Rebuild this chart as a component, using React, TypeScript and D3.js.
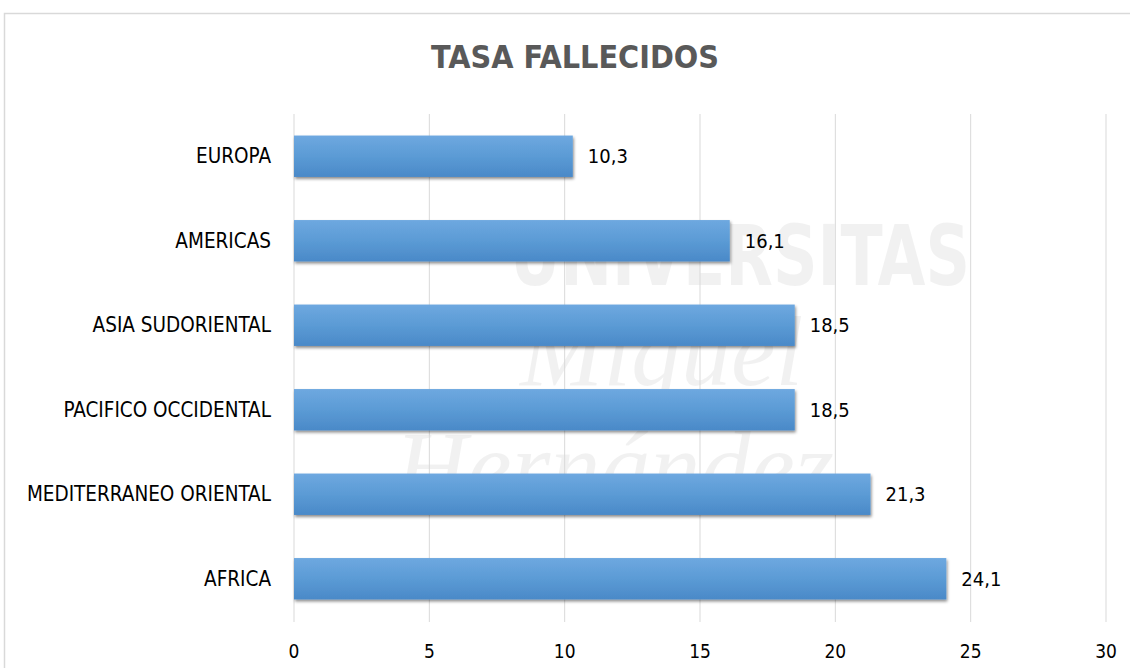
import React from "react";
import * as d3 from "d3";

const categories = ["EUROPA", "AMERICAS", "ASIA SUDORIENTAL", "PACIFICO OCCIDENTAL", "MEDITERRANEO ORIENTAL", "AFRICA"];
const values = [10.3, 16.1, 18.5, 18.5, 21.3, 24.1];
const xTicks = [0, 5, 10, 15, 20, 25, 30];
const title = "TASA FALLECIDOS";

const W = 1130;
const H = 668;
const FONT = "'DejaVu Sans Condensed', 'Liberation Sans Narrow', 'Open Sans', sans-serif";

export default function App() {
  const x = d3.scaleLinear().domain([0, 30]).range([294, 1106]);
  const y = d3.scaleBand().domain(categories).range([114, 621]).paddingInner(0.51).paddingOuter(0.255);
  const fmt = (v: number) => v.toFixed(1).replace(".", ",");
  return (
    <svg width={W} height={H} style={{ position: "absolute", left: 0, top: 0, background: "#fff" }}>
      <defs>
        <linearGradient id="barGrad" x1="0" y1="0" x2="0" y2="1">
          <stop offset="0" stopColor="#6EA8E0" />
          <stop offset="0.5" stopColor="#5B9BD5" />
          <stop offset="1" stopColor="#4A89C8" />
        </linearGradient>
        <filter id="shadow" x="-5%" y="-30%" width="110%" height="170%">
          <feDropShadow dx="1" dy="2" stdDeviation="1.5" floodColor="#000" floodOpacity="0.45" />
        </filter>
      </defs>
      <rect x={4.5} y={13.5} width={1140} height={700} fill="#fff" stroke="#d9d9d9" strokeWidth={1.5} />
      <g opacity={0.05} pointerEvents="none">
        <text x={510} y={285} fontFamily={FONT} fontWeight="bold" fontSize={84} fill="#000" textLength={460} lengthAdjust="spacingAndGlyphs">
          UNIVERSITAS
        </text>
        <text x={520} y={385} fontFamily="'Liberation Serif', serif" fontStyle="italic" fontSize={100} fill="#000">
          Miguel
        </text>
        <text x={395} y={500} fontFamily="'Liberation Serif', serif" fontStyle="italic" fontSize={100} fill="#000">
          Hernández
        </text>
      </g>
      <text x={575} y={68} textAnchor="middle" fontFamily={FONT} fontWeight="bold" fontSize={32} fill="#595959">
        {title}
      </text>
      {xTicks.map((t) => (
        <g key={t}>
          <line x1={x(t)} x2={x(t)} y1={114} y2={622} stroke="#d9d9d9" strokeWidth={1} />
          <text x={x(t)} y={658} textAnchor="middle" fontFamily={FONT} fontSize={19} fill="#000">
            {t}
          </text>
        </g>
      ))}
      {categories.map((c, i) => (
        <g key={c}>
          <rect
            x={x(0)}
            y={y(c)!}
            width={x(values[i]) - x(0)}
            height={y.bandwidth()}
            fill="url(#barGrad)"
            filter="url(#shadow)"
          />
          <text x={271} y={y(c)! + y.bandwidth() / 2 + 7} textAnchor="end" fontFamily={FONT} fontSize={20.5} fill="#000">
            {c}
          </text>
          <text x={x(values[i]) + 15} y={y(c)! + y.bandwidth() / 2 + 7} fontFamily={FONT} fontSize={20} fill="#000">
            {fmt(values[i])}
          </text>
        </g>
      ))}
    </svg>
  );
}
